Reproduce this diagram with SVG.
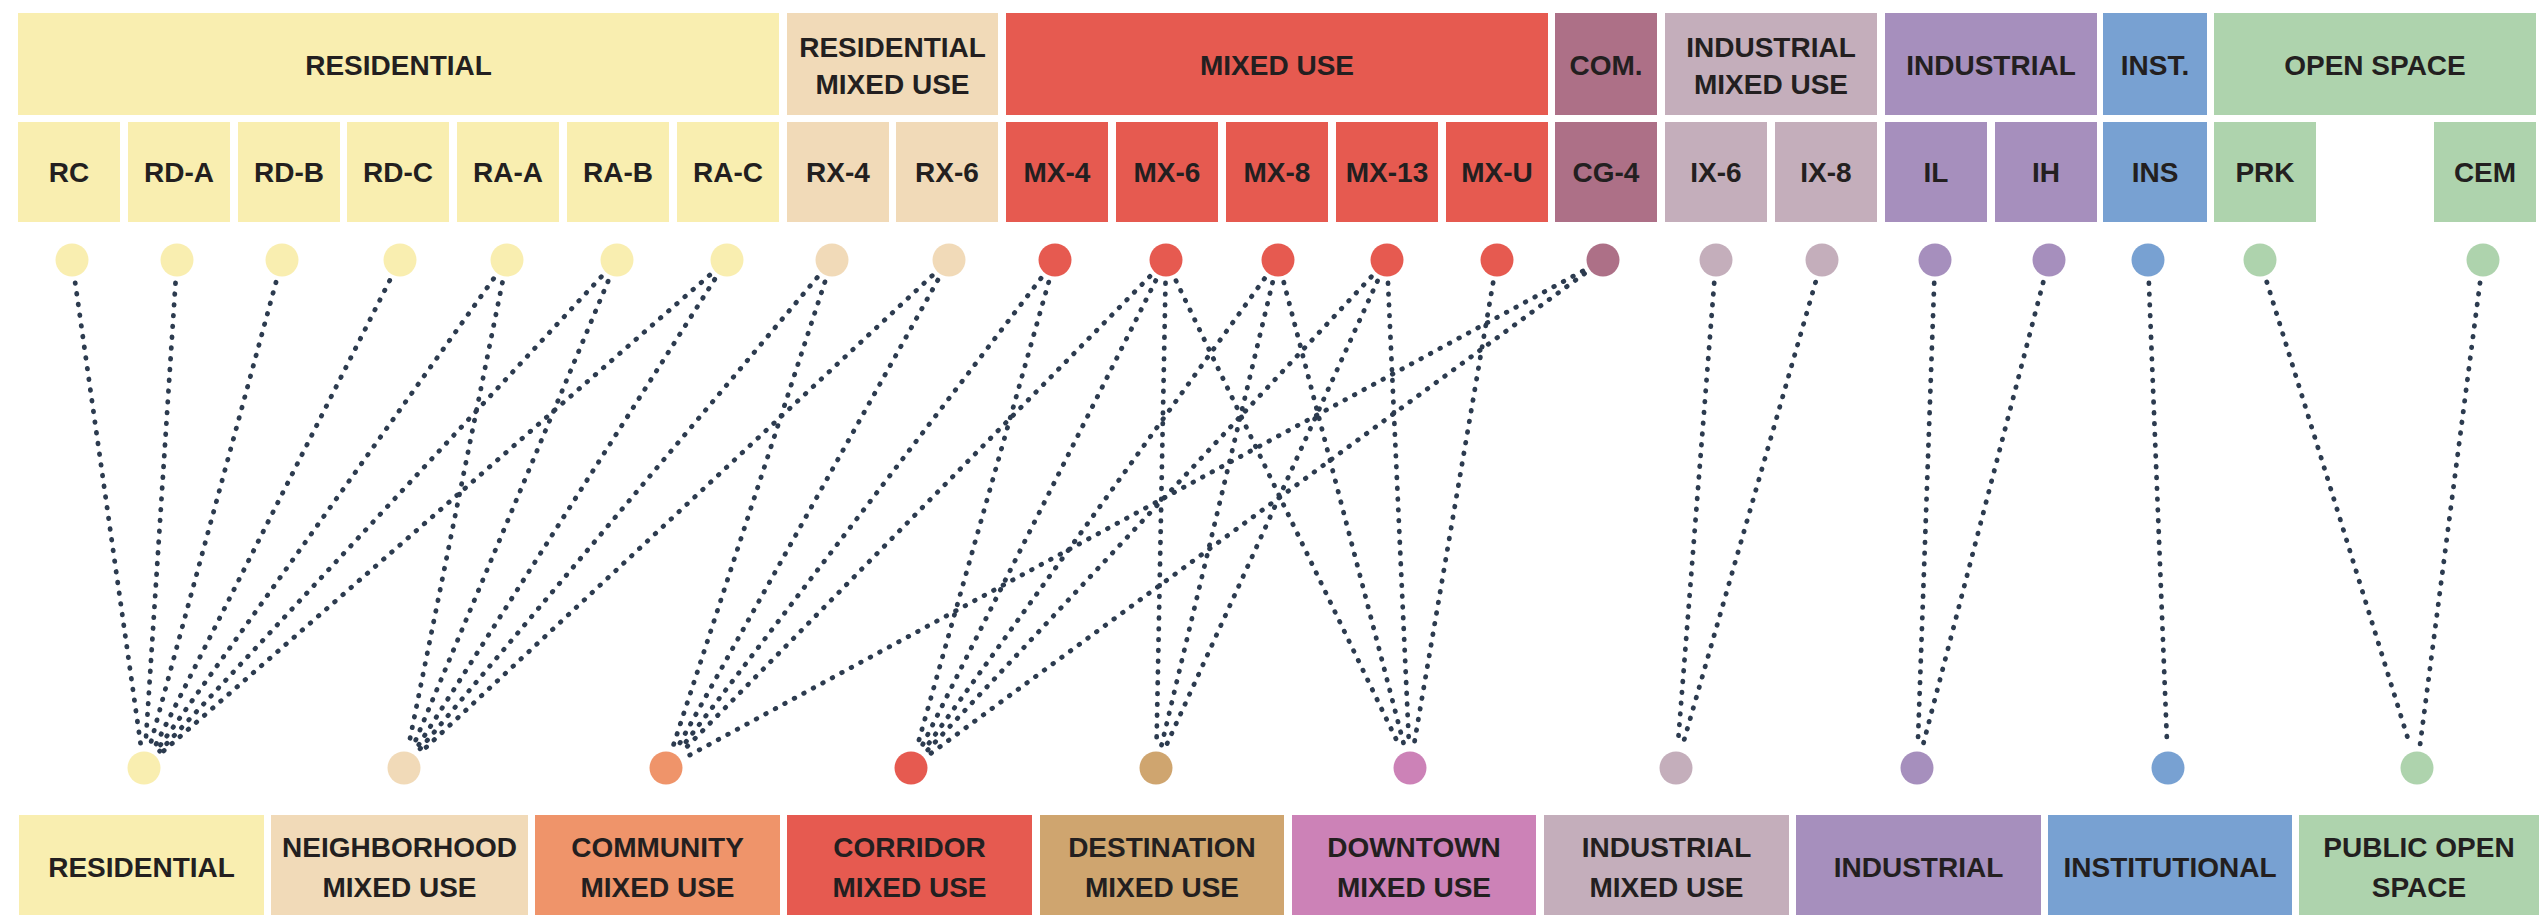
<svg xmlns="http://www.w3.org/2000/svg" width="2539" height="915" viewBox="0 0 2539 915">
<style>
text{font-family:"Liberation Sans",Arial,sans-serif;font-weight:bold;font-size:28px;fill:#231f20;text-anchor:middle}
.res{fill:#f9eeb0}.rmu{fill:#f1dab8}.mx{fill:#e65a50}.com{fill:#ad7087}.imu{fill:#c4aebb}.ind{fill:#a68fbd}.ins{fill:#78a1d2}.os{fill:#aed3ad}
.cmu{fill:#ef946a}.dst{fill:#cfa56f}.dtn{fill:#cc82b7}
#connectors line{stroke:#2c3b4f;stroke-width:4.8;stroke-linecap:round;stroke-dasharray:0.6 10.2;fill:none}
</style>
<rect width="2539" height="915" fill="#ffffff"/>

<g id="headers">
<g id="h-residential"><rect class="res" x="18" y="13" width="761" height="102"/><text x="398.5" y="75">RESIDENTIAL</text></g>
<g id="h-resmixed"><rect class="rmu" x="787" y="13" width="211" height="102"/><text x="892.5" y="57">RESIDENTIAL</text><text x="892.5" y="94">MIXED USE</text></g>
<g id="h-mixed"><rect class="mx" x="1006" y="13" width="542" height="102"/><text x="1277" y="75">MIXED USE</text></g>
<g id="h-com"><rect class="com" x="1555" y="13" width="102" height="102"/><text x="1606" y="75">COM.</text></g>
<g id="h-indmixed"><rect class="imu" x="1665" y="13" width="212" height="102"/><text x="1771" y="57">INDUSTRIAL</text><text x="1771" y="94">MIXED USE</text></g>
<g id="h-industrial"><rect class="ind" x="1885" y="13" width="212" height="102"/><text x="1991" y="75">INDUSTRIAL</text></g>
<g id="h-inst"><rect class="ins" x="2103" y="13" width="104" height="102"/><text x="2155" y="75">INST.</text></g>
<g id="h-open"><rect class="os" x="2214" y="13" width="322" height="102"/><text x="2375" y="75">OPEN SPACE</text></g>
</g>

<g id="connectors">
<line x1="75.2" y1="282.8" x2="140.8" y2="745.2"/>
<line x1="175.5" y1="283" x2="145.5" y2="745"/>
<line x1="276" y1="282.2" x2="150" y2="745.8"/>
<line x1="389.7" y1="280.5" x2="154.4" y2="747.5"/>
<line x1="493.6" y1="278.7" x2="157.4" y2="749.3"/>
<line x1="601.3" y1="276.8" x2="159.7" y2="751.2"/>
<line x1="709.7" y1="275.1" x2="161.3" y2="752.9"/>

<line x1="502.4" y1="282.5" x2="408.6" y2="745.5"/>
<line x1="608.1" y1="281.2" x2="412.9" y2="746.8"/>
<line x1="714.7" y1="279.4" x2="416.3" y2="748.6"/>
<line x1="817.2" y1="277.6" x2="418.8" y2="750.4"/>
<line x1="932.2" y1="275.7" x2="420.8" y2="752.3"/>

<line x1="824.9" y1="281.9" x2="673.1" y2="746.1"/>
<line x1="937.8" y1="280.1" x2="677.2" y2="747.9"/>
<line x1="1041" y1="278.3" x2="680" y2="749.7"/>
<line x1="1149.9" y1="276.4" x2="682.1" y2="751.6"/>
<line x1="1582.8" y1="271" x2="686.2" y2="757"/>

<line x1="1048.7" y1="282.1" x2="917.3" y2="745.9"/>
<line x1="1155.7" y1="280.6" x2="921.3" y2="747.4"/>
<line x1="1264.5" y1="278.6" x2="924.5" y2="749.4"/>
<line x1="1371.3" y1="276.8" x2="926.7" y2="751.2"/>
<line x1="1584.5" y1="273.6" x2="929.5" y2="754.4"/>

<line x1="1165.5" y1="283" x2="1156.5" y2="745"/>
<line x1="1272.6" y1="282.4" x2="1161.4" y2="745.6"/>
<line x1="1377.5" y1="280.9" x2="1165.5" y2="747.1"/>

<line x1="1176" y1="280.7" x2="1400" y2="747.3"/>
<line x1="1283.8" y1="282.3" x2="1404.2" y2="745.7"/>
<line x1="1388" y1="283" x2="1409" y2="745"/>
<line x1="1493.1" y1="282.7" x2="1413.9" y2="745.3"/>

<line x1="1714.2" y1="282.9" x2="1677.8" y2="745.1"/>
<line x1="1815.6" y1="282.1" x2="1682.4" y2="745.9"/>

<line x1="1934.2" y1="283" x2="1917.8" y2="745"/>
<line x1="2043.2" y1="282.3" x2="1922.8" y2="745.7"/>

<line x1="2148.9" y1="283" x2="2167.1" y2="745"/>

<line x1="2266.8" y1="282" x2="2410.2" y2="746"/>
<line x1="2480" y1="282.8" x2="2420" y2="745.2"/>
</g>

<g id="zones">
<g id="z-RC"><rect class="res" x="18" y="122" width="102" height="100"/><text x="69" y="182">RC</text><circle class="res" cx="72" cy="260" r="16.5"/></g>
<g id="z-RD-A"><rect class="res" x="128" y="122" width="102" height="100"/><text x="179" y="182">RD-A</text><circle class="res" cx="177" cy="260" r="16.5"/></g>
<g id="z-RD-B"><rect class="res" x="238" y="122" width="102" height="100"/><text x="289" y="182">RD-B</text><circle class="res" cx="282" cy="260" r="16.5"/></g>
<g id="z-RD-C"><rect class="res" x="347" y="122" width="102" height="100"/><text x="398" y="182">RD-C</text><circle class="res" cx="400" cy="260" r="16.5"/></g>
<g id="z-RA-A"><rect class="res" x="457" y="122" width="102" height="100"/><text x="508" y="182">RA-A</text><circle class="res" cx="507" cy="260" r="16.5"/></g>
<g id="z-RA-B"><rect class="res" x="567" y="122" width="102" height="100"/><text x="618" y="182">RA-B</text><circle class="res" cx="617" cy="260" r="16.5"/></g>
<g id="z-RA-C"><rect class="res" x="677" y="122" width="102" height="100"/><text x="728" y="182">RA-C</text><circle class="res" cx="727" cy="260" r="16.5"/></g>
<g id="z-RX-4"><rect class="rmu" x="787" y="122" width="102" height="100"/><text x="838" y="182">RX-4</text><circle class="rmu" cx="832" cy="260" r="16.5"/></g>
<g id="z-RX-6"><rect class="rmu" x="896" y="122" width="102" height="100"/><text x="947" y="182">RX-6</text><circle class="rmu" cx="949" cy="260" r="16.5"/></g>
<g id="z-MX-4"><rect class="mx" x="1006" y="122" width="102" height="100"/><text x="1057" y="182">MX-4</text><circle class="mx" cx="1055" cy="260" r="16.5"/></g>
<g id="z-MX-6"><rect class="mx" x="1116" y="122" width="102" height="100"/><text x="1167" y="182">MX-6</text><circle class="mx" cx="1166" cy="260" r="16.5"/></g>
<g id="z-MX-8"><rect class="mx" x="1226" y="122" width="102" height="100"/><text x="1277" y="182">MX-8</text><circle class="mx" cx="1278" cy="260" r="16.5"/></g>
<g id="z-MX-13"><rect class="mx" x="1336" y="122" width="102" height="100"/><text x="1387" y="182">MX-13</text><circle class="mx" cx="1387" cy="260" r="16.5"/></g>
<g id="z-MX-U"><rect class="mx" x="1446" y="122" width="102" height="100"/><text x="1497" y="182">MX-U</text><circle class="mx" cx="1497" cy="260" r="16.5"/></g>
<g id="z-CG-4"><rect class="com" x="1555" y="122" width="102" height="100"/><text x="1606" y="182">CG-4</text><circle class="com" cx="1603" cy="260" r="16.5"/></g>
<g id="z-IX-6"><rect class="imu" x="1665" y="122" width="102" height="100"/><text x="1716" y="182">IX-6</text><circle class="imu" cx="1716" cy="260" r="16.5"/></g>
<g id="z-IX-8"><rect class="imu" x="1775" y="122" width="102" height="100"/><text x="1826" y="182">IX-8</text><circle class="imu" cx="1822" cy="260" r="16.5"/></g>
<g id="z-IL"><rect class="ind" x="1885" y="122" width="102" height="100"/><text x="1936" y="182">IL</text><circle class="ind" cx="1935" cy="260" r="16.5"/></g>
<g id="z-IH"><rect class="ind" x="1995" y="122" width="102" height="100"/><text x="2046" y="182">IH</text><circle class="ind" cx="2049" cy="260" r="16.5"/></g>
<g id="z-INS"><rect class="ins" x="2103" y="122" width="104" height="100"/><text x="2155" y="182">INS</text><circle class="ins" cx="2148" cy="260" r="16.5"/></g>
<g id="z-PRK"><rect class="os" x="2214" y="122" width="102" height="100"/><text x="2265" y="182">PRK</text><circle class="os" cx="2260" cy="260" r="16.5"/></g>
<g id="z-CEM"><rect class="os" x="2434" y="122" width="102" height="100"/><text x="2485" y="182">CEM</text><circle class="os" cx="2483" cy="260" r="16.5"/></g>
</g>

<g id="designations">
<g id="d-residential"><circle class="res" cx="144" cy="768" r="16.5"/><rect class="res" x="19" y="815" width="245" height="100"/><text x="141.5" y="877">RESIDENTIAL</text></g>
<g id="d-neighborhood"><circle class="rmu" cx="404" cy="768" r="16.5"/><rect class="rmu" x="271" y="815" width="257" height="100"/><text x="399.5" y="857">NEIGHBORHOOD</text><text x="399.5" y="897">MIXED USE</text></g>
<g id="d-community"><circle class="cmu" cx="666" cy="768" r="16.5"/><rect class="cmu" x="535" y="815" width="245" height="100"/><text x="657.5" y="857">COMMUNITY</text><text x="657.5" y="897">MIXED USE</text></g>
<g id="d-corridor"><circle class="mx" cx="911" cy="768" r="16.5"/><rect class="mx" x="787" y="815" width="245" height="100"/><text x="909.5" y="857">CORRIDOR</text><text x="909.5" y="897">MIXED USE</text></g>
<g id="d-destination"><circle class="dst" cx="1156" cy="768" r="16.5"/><rect class="dst" x="1040" y="815" width="244" height="100"/><text x="1162" y="857">DESTINATION</text><text x="1162" y="897">MIXED USE</text></g>
<g id="d-downtown"><circle class="dtn" cx="1410" cy="768" r="16.5"/><rect class="dtn" x="1292" y="815" width="244" height="100"/><text x="1414" y="857">DOWNTOWN</text><text x="1414" y="897">MIXED USE</text></g>
<g id="d-indmixed"><circle class="imu" cx="1676" cy="768" r="16.5"/><rect class="imu" x="1544" y="815" width="245" height="100"/><text x="1666.5" y="857">INDUSTRIAL</text><text x="1666.5" y="897">MIXED USE</text></g>
<g id="d-industrial"><circle class="ind" cx="1917" cy="768" r="16.5"/><rect class="ind" x="1796" y="815" width="245" height="100"/><text x="1918.5" y="877">INDUSTRIAL</text></g>
<g id="d-institutional"><circle class="ins" cx="2168" cy="768" r="16.5"/><rect class="ins" x="2048" y="815" width="244" height="100"/><text x="2170" y="877">INSTITUTIONAL</text></g>
<g id="d-public"><circle class="os" cx="2417" cy="768" r="16.5"/><rect class="os" x="2299" y="815" width="240" height="100"/><text x="2419" y="857">PUBLIC OPEN</text><text x="2419" y="897">SPACE</text></g>
</g>
</svg>
